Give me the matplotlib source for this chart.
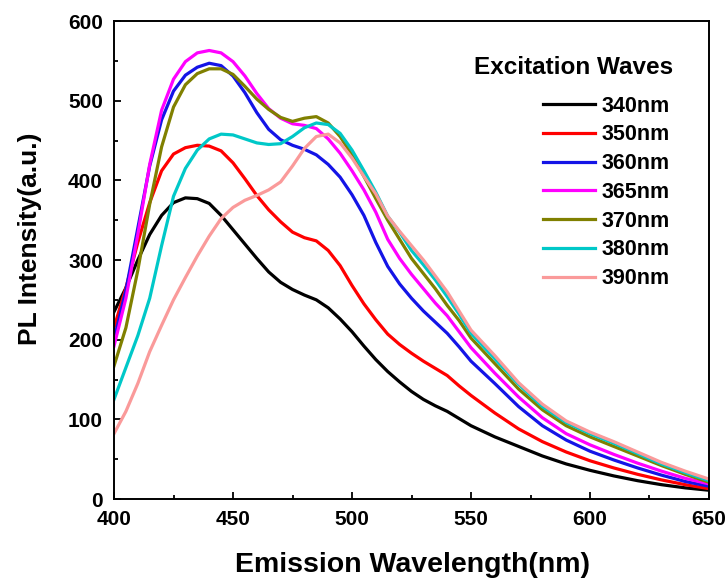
import matplotlib
matplotlib.use('Agg')
import matplotlib.pyplot as plt

plt.rcParams['font.family'] = ['Liberation Sans', 'DejaVu Sans']
plt.rcParams['font.weight'] = 'bold'

# emission wavelength (nm)
wavelength = [400, 405, 410, 415, 420, 425, 430, 435, 440, 445, 450, 455, 460,
              465, 470, 475, 480, 485, 490, 495, 500, 505, 510, 515, 520, 525,
              530, 535, 540, 545, 550, 560, 570, 580, 590, 600, 610, 620, 630,
              640, 650]

# PL intensity for each excitation wavelength
ex_340 = [235, 265, 300, 332, 356, 372, 378, 377, 371, 356, 338, 320, 302,
          285, 272, 263, 256, 250, 240, 226, 210, 192, 175, 160, 147, 135,
          125, 117, 110, 101, 92, 78, 66, 54, 44, 36, 29, 23, 18, 14, 11]
ex_350 = [215, 265, 322, 372, 412, 433, 441, 444, 443, 437, 422, 402, 381,
          363, 348, 335, 328, 324, 312, 293, 268, 245, 225, 207, 194, 183,
          173, 164, 155, 142, 130, 108, 88, 72, 59, 48, 39, 31, 24, 18, 13]
ex_360 = [200, 262, 340, 418, 476, 512, 532, 542, 547, 544, 531, 510, 485,
          464, 451, 444, 439, 432, 420, 404, 382, 356, 322, 292, 270, 252,
          236, 222, 208, 191, 173, 145, 116, 92, 74, 60, 49, 39, 30, 22, 16]
ex_365 = [192, 252, 332, 420, 488, 527, 549, 560, 563, 560, 549, 531, 509,
          490, 478, 471, 469, 465, 452, 434, 412, 388, 360, 326, 302, 282,
          264, 246, 230, 210, 190, 158, 128, 102, 82, 68, 56, 45, 35, 26, 19]
ex_370 = [167, 215, 287, 370, 442, 492, 520, 534, 540, 540, 533, 518, 502,
          489, 479, 474, 478, 480, 472, 455, 432, 405, 377, 350, 326, 302,
          283, 264, 243, 224, 202, 170, 138, 112, 92, 78, 66, 54, 42, 31, 21]
ex_380 = [125, 165, 205, 252, 318, 380, 415, 438, 452, 458, 457, 452, 447,
          445, 446, 455, 466, 472, 470, 459, 438, 412, 385, 355, 335, 312,
          294, 275, 254, 232, 208, 176, 144, 116, 96, 82, 70, 57, 44, 33, 23]
ex_390 = [82, 110, 145, 185, 218, 250, 278, 305, 330, 352, 366, 375, 381,
          388, 398, 418, 440, 455, 458, 447, 428, 405, 383, 355, 336, 318,
          300, 280, 260, 236, 212, 180, 146, 119, 98, 84, 72, 59, 46, 35, 25]

series = [ex_340, ex_350, ex_360, ex_365, ex_370, ex_380, ex_390]
labels = ['340nm', '350nm', '360nm', '365nm', '370nm', '380nm', '390nm']
colors = ['#000000', '#ff0000', '#1414e6', '#ff00ff', '#808000', '#00c8c8',
          '#fa9a9a']

fig = plt.figure(figsize=(7.28, 5.82), dpi=100)
ax = fig.add_axes([0.1566, 0.1426, 0.8173, 0.8213])

for values, label, color in zip(series, labels, colors):
    ax.plot(wavelength, values, color=color, lw=2.3, label=label,
            solid_joinstyle='round')

ax.set_xlim(400, 650)
ax.set_ylim(0, 600)
ax.set_xticks([400, 450, 500, 550, 600, 650])
ax.set_xticks([425, 475, 525, 575, 625], minor=True)
ax.set_yticks([0, 100, 200, 300, 400, 500, 600])
ax.set_yticks([50, 150, 250, 350, 450, 550], minor=True)
ax.tick_params(which='both', direction='in', top=False, right=False,
               width=1.3, labelsize=15)
ax.tick_params(which='major', length=5)
ax.tick_params(which='minor', length=3)
ax.tick_params(axis='y', pad=8)
ax.tick_params(axis='x', pad=8)
for sp in ax.spines.values():
    sp.set_linewidth(1.4)

ax.set_xlabel('Emission Wavelength(nm)', fontsize=20.5, fontweight='bold')
ax.set_ylabel('PL Intensity(a.u.)', fontsize=19, fontweight='bold')
ax.xaxis.set_label_coords(0.5015, -0.111)
ax.yaxis.set_label_coords(-0.121, 0.544)

ax.text(0.9395, 0.9017, 'Excitation Waves', transform=ax.transAxes,
        ha='right', va='center', fontsize=17.5, fontweight='bold')
leg = ax.legend(loc='upper right', bbox_to_anchor=(0.9345, 0.844),
                frameon=False, prop={'weight': 'bold', 'size': 15.5},
                handlelength=2.45, handletextpad=0.3, labelspacing=0.36,
                borderpad=0, borderaxespad=0)

fig.savefig('out.png', dpi=100)
